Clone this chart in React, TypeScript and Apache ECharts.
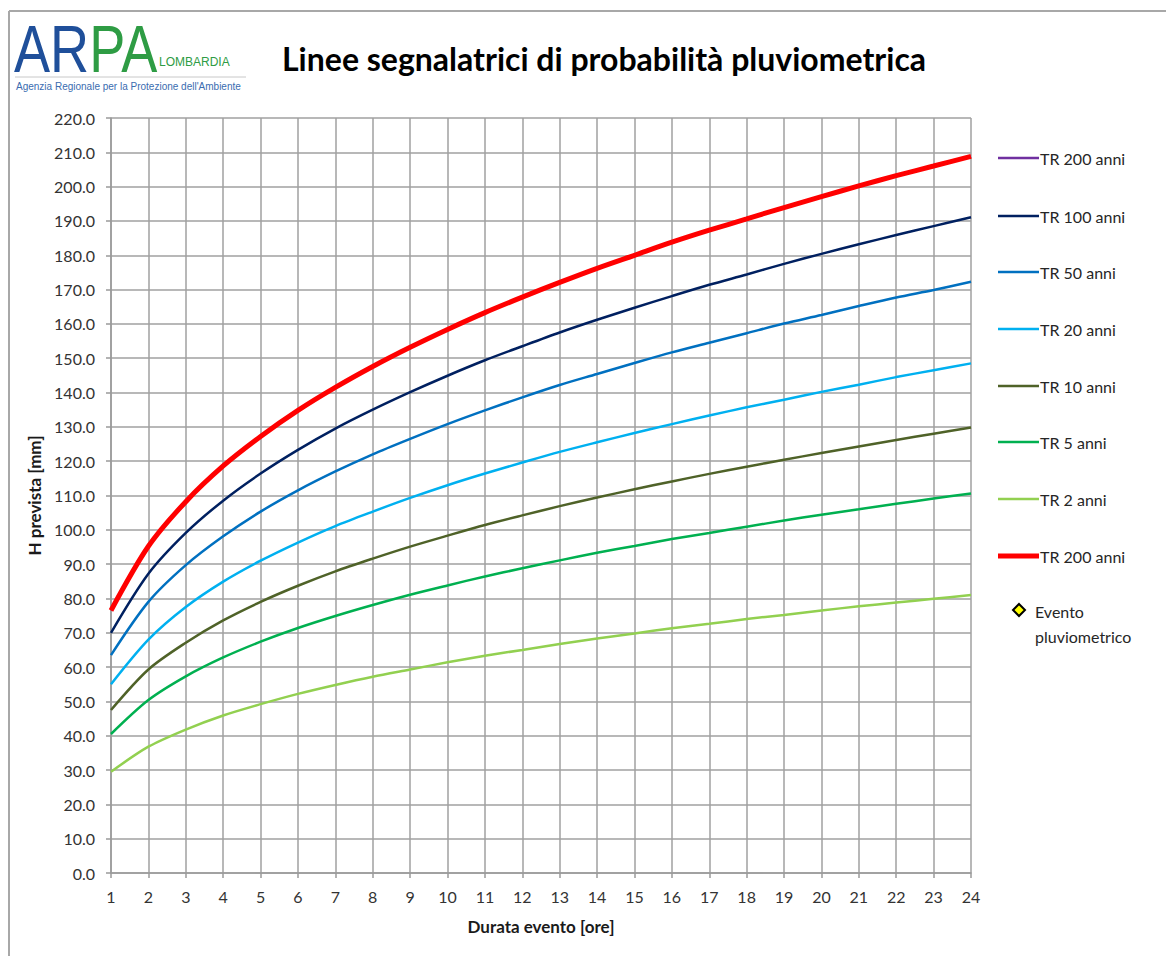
import React, { useEffect, useRef } from "react";
import * as echarts from "echarts";

const hours = [1, 2, 3, 4, 5, 6, 7, 8, 9, 10, 11, 12, 13, 14, 15, 16, 17, 18, 19, 20, 21, 22, 23, 24];

const tr200 = [76.5, 95.2, 108.2, 118.6, 127.2, 134.8, 141.5, 147.6, 153.2, 158.4, 163.3, 167.8, 172.1, 176.2, 180.0, 183.8, 187.3, 190.6, 193.9, 197.1, 200.2, 203.2, 206.0, 208.8];
const tr100 = [70, 87.2, 99.1, 108.5, 116.4, 123.3, 129.5, 135.0, 140.1, 144.9, 149.4, 153.5, 157.5, 161.2, 164.7, 168.1, 171.4, 174.4, 177.5, 180.4, 183.2, 185.9, 188.5, 191.1];
const tr50 = [63.5, 79.0, 89.7, 98.1, 105.3, 111.5, 117.0, 122.0, 126.5, 130.8, 134.8, 138.6, 142.2, 145.4, 148.6, 151.7, 154.5, 157.3, 160.1, 162.6, 165.2, 167.7, 169.9, 172.3];
const tr20 = [55, 68.0, 77.5, 84.9, 91.0, 96.3, 101.1, 105.3, 109.3, 113.0, 116.4, 119.6, 122.7, 125.5, 128.2, 130.8, 133.3, 135.7, 137.9, 140.2, 142.3, 144.5, 146.5, 148.5];
const tr10 = [47.5, 59.3, 67.1, 73.6, 79.0, 83.7, 87.9, 91.6, 95.1, 98.3, 101.4, 104.2, 106.9, 109.4, 111.8, 114.1, 116.3, 118.4, 120.4, 122.4, 124.3, 126.2, 128.0, 129.8];
const tr5 = [40.5, 50.4, 57.3, 62.8, 67.4, 71.4, 74.9, 78.1, 81.1, 83.8, 86.4, 88.8, 91.1, 93.3, 95.3, 97.3, 99.1, 100.9, 102.7, 104.4, 106.0, 107.6, 109.1, 110.6];
const tr2 = [29.5, 36.8, 41.8, 45.9, 49.2, 52.2, 54.8, 57.2, 59.3, 61.4, 63.3, 65.0, 66.7, 68.3, 69.8, 71.3, 72.6, 74.0, 75.2, 76.5, 77.7, 78.8, 79.9, 81.0];
const eventoPluviometrico: number[][] = [];

const seriesNames = ["TR 200 anni", "TR 100 anni", "TR 50 anni", "TR 20 anni", "TR 10 anni", "TR 5 anni", "TR 2 anni", "TR 200 anni"];
const seriesData = [tr200, tr100, tr50, tr20, tr10, tr5, tr2, tr200];
const seriesColors = ["#7030a0", "#002060", "#0070c0", "#00b0f0", "#4f6228", "#00b050", "#92d050", "#ff0000"];
const seriesWidths = [2.5, 2.5, 2.5, 2.5, 2.5, 2.5, 2.5, 5];
const eventoName = ["Evento", "pluviometrico"];

const FONT = "Lato, 'Open Sans', sans-serif";

export default function App() {
  const ref = useRef<HTMLDivElement>(null);
  useEffect(() => {
    if (!ref.current) return;
    const chart = echarts.init(ref.current, null, { renderer: "svg" });

    const series: any[] = seriesData.map((d, i) => ({
      name: seriesNames[i] + (i === 7 ? " " : ""),
      type: "line",
      data: d.map((v, j) => [hours[j], v]),
      smooth: 0.3,
      symbol: "none",
      z: i === 7 ? 10 : i === 0 ? 1 : 5,
      lineStyle: { color: seriesColors[i], width: seriesWidths[i] },
      itemStyle: { color: seriesColors[i] },
    }));
    series.push({
      name: eventoName.join(" "),
      type: "scatter",
      data: eventoPluviometrico,
      symbol: "diamond",
      itemStyle: { color: "#ffff00", borderColor: "#000", borderWidth: 2 },
    });

    const legendGraphics: any[] = [];
    const legendY = [158, 216, 272, 329, 386, 442, 499, 556];
    seriesNames.forEach((n, i) => {
      legendGraphics.push({
        type: "line",
        shape: { x1: 998, y1: legendY[i], x2: 1039, y2: legendY[i] },
        style: { stroke: seriesColors[i], lineWidth: i === 7 ? 5 : 2.5 },
      });
      legendGraphics.push({
        type: "text",
        x: 1040,
        y: legendY[i],
        style: { text: n, font: `16px ${FONT}`, fill: "#262626", textVerticalAlign: "middle" },
      });
    });
    legendGraphics.push({
      type: "polygon",
      shape: { points: [[1019, 604], [1025, 610], [1019, 616], [1013, 610]] },
      style: { fill: "#ffff00", stroke: "#000", lineWidth: 2 },
    });
    legendGraphics.push({
      type: "text",
      x: 1035,
      y: 611,
      style: { text: eventoName[0], font: `16px ${FONT}`, fill: "#262626", textVerticalAlign: "middle" },
    });
    legendGraphics.push({
      type: "text",
      x: 1035,
      y: 636,
      style: { text: eventoName[1], font: `16px ${FONT}`, fill: "#262626", textVerticalAlign: "middle" },
    });

    const option: any = {
      animation: false,
      backgroundColor: "#ffffff",
      grid: { left: 111, right: 195, top: 118, bottom: 83 },
      xAxis: {
        type: "value",
        min: 1,
        max: 24,
        interval: 1,
        name: "Durata evento [ore]",
        nameLocation: "middle",
        nameGap: 45,
        nameTextStyle: { fontFamily: FONT, fontWeight: "bold", fontSize: 17, color: "#1a1a1a" },
        axisLine: { show: true, lineStyle: { color: "#9a9a9a", width: 1.5 } },
        axisTick: { show: true, length: 5, lineStyle: { color: "#9a9a9a", width: 1.5 } },
        axisLabel: { margin: 15, fontFamily: FONT, fontSize: 16, color: "#333" },
        splitLine: { show: true, lineStyle: { color: "#a0a0a0", width: 1.5 } },
      },
      yAxis: {
        type: "value",
        min: 0,
        max: 220,
        interval: 10,
        name: "H prevista [mm]",
        nameLocation: "middle",
        nameGap: 66,
        nameTextStyle: { fontFamily: FONT, fontWeight: "bold", fontSize: 17, color: "#1a1a1a" },
        axisLine: { show: true, lineStyle: { color: "#9a9a9a", width: 1.5 } },
        axisTick: { show: true, length: 5, lineStyle: { color: "#9a9a9a", width: 1.5 } },
        axisLabel: { margin: 16, fontFamily: FONT, fontSize: 16, color: "#333", formatter: (v: number) => v.toFixed(1) },
        splitLine: { show: true, lineStyle: { color: "#a0a0a0", width: 1.5 } },
      },
      series,
      graphic: [
        { type: "line", shape: { x1: 9, y1: 11, x2: 1166, y2: 11 }, style: { stroke: "#a8a8a8", lineWidth: 2 } },
        { type: "line", shape: { x1: 9, y1: 11, x2: 9, y2: 956 }, style: { stroke: "#a8a8a8", lineWidth: 2 } },
        {
          type: "text", x: 14, y: 82, scaleX: 0.82,
          style: {
            text: "{a|AR}{b|PA}",
            textVerticalAlign: "bottom",
            rich: {
              a: { fontFamily: "'Liberation Sans', sans-serif", fontSize: 66, fill: "#1f4f9a", color: "#1f4f9a" },
              b: { fontFamily: "'Liberation Sans', sans-serif", fontSize: 66, fill: "#2e9c44", color: "#2e9c44" },
            },
          },
        },
        {
          type: "text", x: 159, y: 62,
          style: { text: "LOMBARDIA", font: `12px 'Liberation Sans', sans-serif`, fill: "#2e9c44", textVerticalAlign: "middle" },
        },
        { type: "line", shape: { x1: 15, y1: 77, x2: 246, y2: 77 }, style: { stroke: "#c8c8c8", lineWidth: 1 } },
        {
          type: "text", x: 16, y: 86,
          style: { text: "Agenzia Regionale per la Protezione dell'Ambiente", font: `10px 'Liberation Sans', sans-serif`, fill: "#3a6cb0", textVerticalAlign: "middle" },
        },
        {
          type: "text", x: 282, y: 58,
          style: { text: "Linee segnalatrici di probabilità pluviometrica", font: `bold 32px ${FONT}`, fill: "#000", textVerticalAlign: "middle" },
        },
        ...legendGraphics,
      ],
    };
    chart.setOption(option);
    return () => chart.dispose();
  }, []);
  return <div ref={ref} style={{ position: "absolute", left: 0, top: 0, width: 1166, height: 956 }} />;
}
